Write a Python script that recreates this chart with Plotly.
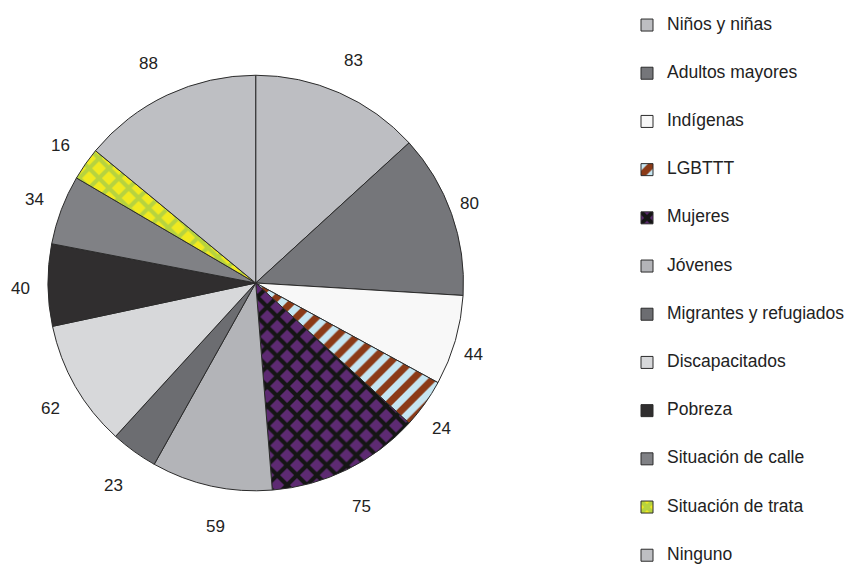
import math
import plotly.graph_objects as go

labels = ["Niños y niñas", "Adultos mayores", "Indígenas", "LGBTTT", "Mujeres", "Jóvenes",
          "Migrantes y refugiados", "Discapacitados", "Pobreza", "Situación de calle",
          "Situación de trata", "Ninguno"]
values = [83, 80, 44, 24, 75, 59, 23, 62, 40, 34, 16, 88]
colors = ["#bdbec2", "#75767a", "#f8f8f8", "#c6e6f2", "#5d2a72", "#b3b4b8",
          "#6c6d71", "#d7d8da", "#302e2f", "#808185", "#f1ea1f", "#bebfc3"]
pat_shape = ["", "", "", "/", "x", "", "", "", "", "", "x", ""]
pat_fg = ["#000", "#000", "#000", "#8b3a17", "#151515", "#000", "#000", "#000", "#000", "#000", "#b7d33f", "#000"]

W, H = 850, 571
cx, cy, R = 256, 283, 208
dom_x = [(cx - R) / W, (cx + R) / W]
dom_y = [1 - (cy + R) / H, 1 - (cy - R) / H]

# legend: small base font (sets row spacing via 3-line entries), visible text in 17.5px span
row = 48.2
legend_text = []
for i, l in enumerate(labels):
    t = "<span style='font-size:17.5px'>" + l + "</span>"
    if i < len(labels) - 1:
        t += "<br>\u00a0<br>\u00a0"
    legend_text.append(t)

fig = go.Figure(go.Pie(
    labels=legend_text,
    values=values,
    sort=False,
    direction="clockwise",
    rotation=0,
    textinfo="none",
    hoverinfo="skip",
    marker=dict(
        colors=colors,
        line=dict(color="#2b2b2b", width=1),
        pattern=dict(shape=pat_shape, fgcolor=pat_fg, bgcolor=colors, size=14, solidity=0.5),
    ),
    domain=dict(x=dom_x, y=dom_y),
))

total = sum(values)
acc = 0
annotations = []
for v in values:
    mid = (acc + v / 2) / total * 2 * math.pi
    acc += v
    ux, uy = math.sin(mid), -math.cos(mid)
    y = cy + 246 * uy + 3
    if ux > 0.3:
        x = cx + (R + 7) * ux
        xa = "left"
    elif ux < -0.3:
        x = cx + (R + 16) * ux
        xa = "right"
    else:
        x = cx + R * 0.9 * ux
        xa = "center"
    annotations.append(dict(
        x=x / W, y=1 - y / H, xref="paper", yref="paper",
        text=str(v), showarrow=False, xanchor=xa, yanchor="middle",
        font=dict(size=17, color="#222222", family="Liberation Sans, Arial, sans-serif"),
    ))

fig.update_layout(
    width=W, height=H,
    margin=dict(l=0, r=0, t=0, b=0),
    paper_bgcolor="white",
    plot_bgcolor="white",
    font=dict(family="Liberation Sans, Arial, sans-serif", color="#222222"),
    annotations=annotations,
    showlegend=True,
    legend=dict(
        x=0.7385, y=1 - 11.5 / H, xanchor="left", yanchor="top",
        font=dict(size=(row - 3) / 3 / 1.3, color="#222222"),
        valign="top",
        bgcolor="rgba(0,0,0,0)",
        traceorder="normal",
        maxheight=1.0,
    ),
)

fig.write_html("out.html")
